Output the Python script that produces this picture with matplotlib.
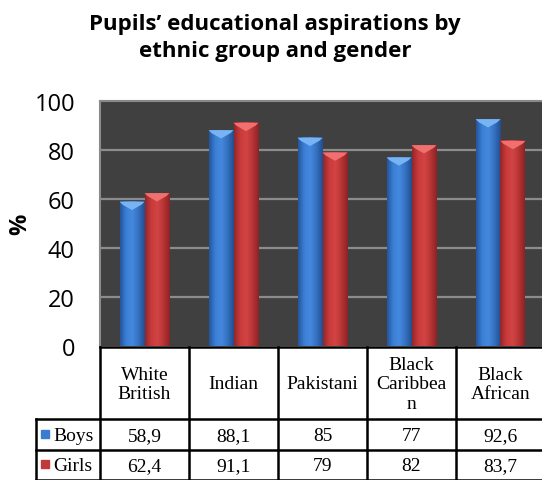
import numpy as np
import matplotlib
matplotlib.use("Agg")
import matplotlib.pyplot as plt
from matplotlib.colors import LinearSegmentedColormap

groups = ["White\nBritish", "Indian", "Pakistani", "Black\nCaribbea\nn", "Black\nAfrican"]
boys = [58.9, 88.1, 85, 77, 92.6]
girls = [62.4, 91.1, 79, 82, 83.7]
boys_txt = ["58,9", "88,1", "85", "77", "92,6"]
girls_txt = ["62,4", "91,1", "79", "82", "83,7"]
yticks = [0, 20, 40, 60, 80, 100]

W, H = 542, 481
fig = plt.figure(figsize=(W / 100, H / 100), dpi=100)

# plot area in pixel terms
px_l, px_r, px_top, px_bot = 100, 545, 102, 347
ax = fig.add_axes([px_l / W, 1 - px_bot / H, (px_r - px_l) / W, (px_bot - px_top) / H])
ax.set_facecolor("#404040")
ax.set_xlim(-0.5, len(groups) - 0.5)
ax.set_ylim(0, 100)
for s in ax.spines.values():
    s.set_color("#8a8a8a")
    s.set_linewidth(1.5)
ax.spines["bottom"].set_visible(False)
ax.set_xticks([])
ax.set_yticks(yticks)
ax.tick_params(axis="y", length=0, pad=18, labelsize=17)
for lab in ax.get_yticklabels():
    lab.set_fontfamily("Open Sans")
for yv in yticks[1:-1]:
    ax.axhline(yv, color="#8c8c8c", lw=1.6, zorder=1)
fig.text(20 / W, 1 - 224 / H, "%", rotation=90, ha="center", va="center",
         fontsize=17, fontweight="bold", family="Open Sans")

blue_cm = LinearSegmentedColormap.from_list("b", ["#24569c", "#3b80d6", "#4489de", "#3570c0", "#214f90"])
red_cm = LinearSegmentedColormap.from_list("r", ["#92262a", "#c93b3b", "#d24444", "#b83434", "#8c2326"])
grad = np.linspace(0, 1, 64).reshape(1, -1)

bw = 0.28
def draw_bar(xc, h, cmap, top):
    x0, x1 = xc - bw / 2, xc + bw / 2
    ax.imshow(grad, cmap=cmap, extent=(x0, x1, 0, h), aspect="auto", zorder=3,
              interpolation="bilinear")
    d = 3.4
    ax.fill([x0, x1, x1 - bw * 0.12, xc, x0 + bw * 0.12], [h, h, h - 1.2, h - d, h - 1.2],
            color=top, zorder=4, lw=0)

for i in range(len(groups)):
    draw_bar(i - bw / 2, boys[i], blue_cm, "#78b4f4")
    draw_bar(i + bw / 2, girls[i], red_cm, "#f07070")

# data table under the chart, in pixel coordinates
tab = fig.add_axes([0, 0, 1, 1])
tab.set_xlim(0, W)
tab.set_ylim(H, 0)
tab.axis("off")
col0, colw, lab_l = 100, 89, 36
row_top, row_hdr, row_b, row_g = 348, 420, 451, 481
lw = 1.8
tab.plot([col0, W], [row_top, row_top], color="black", lw=lw)
tab.plot([lab_l, W], [row_hdr, row_hdr], color="black", lw=lw)
tab.plot([lab_l, W], [row_b, row_b], color="black", lw=lw)
tab.plot([lab_l, W], [row_g - 0.5, row_g - 0.5], color="black", lw=lw)
tab.plot([lab_l, lab_l], [row_hdr, row_g], color="black", lw=lw)
for i in range(len(groups)):
    x = col0 + colw * i
    tab.plot([x, x], [row_top, row_g], color="black", lw=lw)
    xc = x + colw / 2
    tab.text(xc, (row_top + row_hdr) / 2 + 1, groups[i], ha="center", va="center",
             family="Liberation Serif", fontsize=14, linespacing=1.22)
    tab.text(xc, (row_hdr + row_b) / 2 + 1, boys_txt[i], ha="center", va="center",
             family="Liberation Serif", fontsize=14)
    tab.text(xc, (row_b + row_g) / 2 + 1, girls_txt[i], ha="center", va="center",
             family="Liberation Serif", fontsize=14)

for yc, name, c in [((row_hdr + row_b) / 2, "Boys", "#3a7cd0"), ((row_b + row_g) / 2, "Girls", "#c03a3a")]:
    tab.add_patch(plt.Rectangle((40.5, yc - 5), 8.5, 8, color=c))
    tab.text(53, yc + 1, name, ha="left", va="center", family="Liberation Serif", fontsize=14)

fig.text(275 / W, 1 - 38 / H, "Pupils’ educational aspirations by\nethnic group and gender",
         ha="center", va="center", fontsize=16, fontweight="bold", family="Open Sans",
         linespacing=1.4)

fig.savefig("out.png", dpi=100)
